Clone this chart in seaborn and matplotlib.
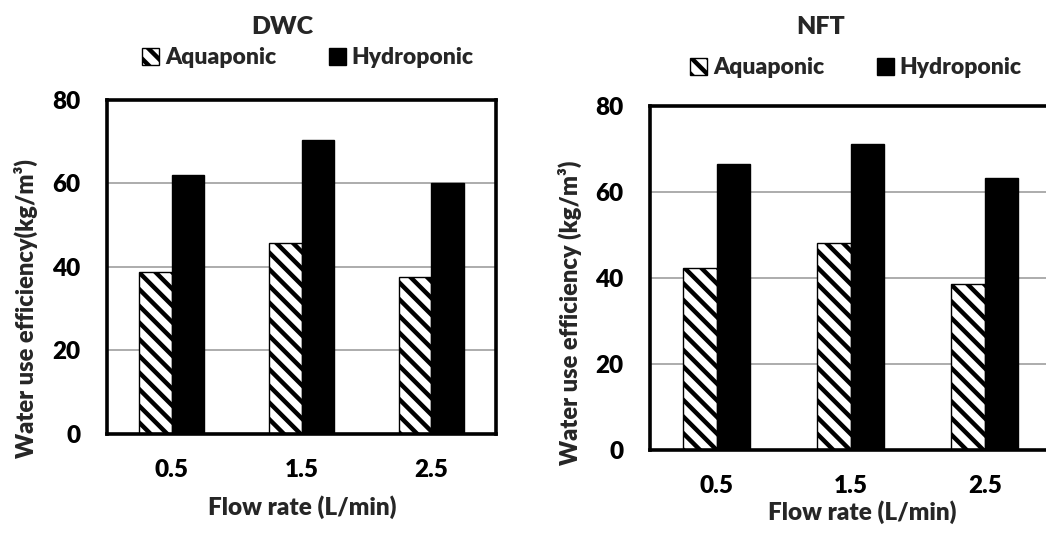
import matplotlib
matplotlib.use("agg")
import matplotlib.pyplot as plt
import pandas as pd
import seaborn as sns

# flow rates and water use efficiency
flow_rates = ["0.5", "1.5", "2.5"]
systems = ["Aquaponic", "Hydroponic"]
dwc_aqua = [38.8, 45.7, 37.7]
dwc_hydro = [62.0, 70.4, 60.0]
nft_aqua = [42.4, 48.2, 38.5]
nft_hydro = [66.4, 71.2, 63.2]

sns.set_theme(style="white")
plt.rcParams['font.family'] = ['Lato', 'DejaVu Sans']
plt.rcParams['font.weight'] = 'heavy'
plt.rcParams['hatch.linewidth'] = 3.2
plt.rcParams['hatch.color'] = 'black'
FW = 'heavy'


def long_df(aqua, hydro):
    rows = []
    for f, a, h in zip(flow_rates, aqua, hydro):
        rows.append({'Flow': f, 'System': 'Aquaponic', 'WUE': a})
        rows.append({'Flow': f, 'System': 'Hydroponic', 'WUE': h})
    return pd.DataFrame(rows)


#draws one panel with hatched aquaponic bars and black hydroponic bars
def panel(fig, rect, df, title, title_xy, leg_xy, ylabel, ylab_xy, xlab_xy):
    ax = fig.add_axes(rect)
    sns.barplot(data=df, x='Flow', y='WUE', hue='System', order=flow_rates,
                hue_order=systems, palette={'Aquaponic': 'white', 'Hydroponic': 'black'},
                width=0.5, gap=0, edgecolor='black', linewidth=1, ax=ax)
    for p in ax.patches:
        if tuple(p.get_facecolor()[:3]) == (1.0, 1.0, 1.0):
            p.set_hatch('\\\\')
    ax.set_ylim(0, 80)
    ax.set_xlim(-0.5, 2.5)
    ax.set_yticks([0, 20, 40, 60, 80])
    ax.yaxis.grid(True, color='#a6a6a6', linewidth=1.3)
    ax.set_axisbelow(True)
    for s in ax.spines.values():
        s.set_color('black')
        s.set_linewidth(2.6)
    ax.tick_params(axis='both', length=0, labelsize=17.5, colors='black')
    ax.tick_params(axis='y', pad=19)
    ax.tick_params(axis='x', pad=18)
    for t in ax.get_xticklabels() + ax.get_yticklabels():
        t.set_fontweight(FW)
    ax.set_xlabel('')
    ax.set_ylabel('')
    fig.text(ylab_xy[0], ylab_xy[1], ylabel, rotation=90, ha='center',
             va='center', fontsize=17, fontweight=FW)
    fig.text(xlab_xy[0], xlab_xy[1], 'Flow rate (L/min)', ha='center', va='center',
             fontsize=17.5, fontweight=FW)
    fig.text(title_xy[0], title_xy[1], title, ha='center', va='center',
             fontsize=18, fontweight=FW)
    handles, labels = ax.get_legend_handles_labels()
    if ax.get_legend() is not None:
        ax.get_legend().remove()
    ax.legend(handles, labels, loc='center', bbox_to_anchor=leg_xy,
              bbox_transform=fig.transFigure, ncol=2, frameon=False,
              handlelength=0.75, handleheight=0.75, handletextpad=0.25,
              columnspacing=2.3, prop={'size': 16.5, 'weight': FW})
    return ax


fig = plt.figure(figsize=(10.46, 5.35), dpi=100)

panel(fig, [0.1023, 0.1888, 0.3719, 0.6243], long_df(dwc_aqua, dwc_hydro), 'DWC',
      (282 / 1046, 1 - 27 / 535), (308 / 1046, 1 - 58 / 535),
      'Water use efficiency(kg/m³)', (26 / 1046, 1 - 309 / 535),
      (302 / 1046, 1 - 507 / 535))

panel(fig, [0.6214, 0.1589, 0.3843, 0.643], long_df(nft_aqua, nft_hydro), 'NFT',
      (821 / 1046, 1 - 27 / 535), (856 / 1046, 1 - 68 / 535),
      'Water use efficiency (kg/m³)', (570 / 1046, 1 - 313 / 535),
      (862 / 1046, 1 - 512 / 535))

fig.savefig('out.png', dpi=100)
